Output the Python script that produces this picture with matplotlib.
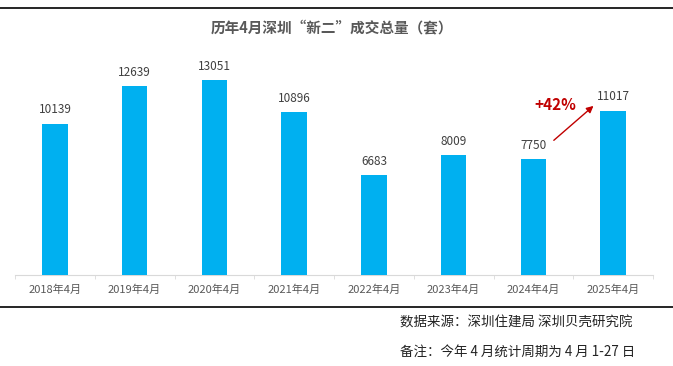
import matplotlib
matplotlib.use("Agg")
import matplotlib.pyplot as plt
from matplotlib.lines import Line2D

plt.rcParams['font.family'] = ['Noto Sans CJK SC', 'DejaVu Sans']

categories = ["2018年4月", "2019年4月", "2020年4月", "2021年4月",
              "2022年4月", "2023年4月", "2024年4月", "2025年4月"]
values = [10139, 12639, 13051, 10896, 6683, 8009, 7750, 11017]
growth_label = "+42%"

W, H = 673, 366
fig = plt.figure(figsize=(W / 100, H / 100), dpi=100)
fig.patch.set_facecolor("white")

# axes placed in pixel terms: x 15..653, y 66..275
ax = fig.add_axes([15 / W, (H - 275) / H, (653 - 15) / W, (275 - 66) / H])
x = range(len(categories))
ax.bar(x, values, width=0.32, color="#00b0f0", zorder=3)
ax.set_xlim(-0.5, len(categories) - 0.5)
ax.set_ylim(0, 14000)

for xi, v in zip(x, values):
    ax.text(xi, v + 500, str(v), ha="center", va="bottom",
            fontsize=8.5, color="#404040")

ax.set_xticks(list(x))
ax.set_xticklabels(categories, fontsize=8, color="#595959")
ax.set_xticks([i - 0.5 for i in range(len(categories) + 1)], minor=True)
ax.tick_params(axis="x", which="major", length=0, pad=7)
ax.tick_params(axis="x", which="minor", length=3, color="#d9d9d9")
ax.set_yticks([])
for s in ["top", "right", "left"]:
    ax.spines[s].set_visible(False)
ax.spines["bottom"].set_color("#d9d9d9")

# growth arrow between 2024 and 2025
ax.annotate("", xy=(6.78, 11450), xytext=(6.23, 8900),
            arrowprops=dict(arrowstyle="-|>", color="#c00000", lw=1.0,
                            mutation_scale=10), zorder=5)
ax.text(6.27, 11380, growth_label, ha="center", va="center",
        fontsize=11, fontweight="bold", color="#c00000")

fig.text(332 / W, 1 - 28 / H, "历年4月深圳“新二”成交总量（套）", ha="center",
         va="center", fontsize=10.5, fontweight="bold", color="#595959")

# separator lines
fig.add_artist(Line2D([0, 1], [1 - 8 / H, 1 - 8 / H], color="black", lw=1.2))
fig.add_artist(Line2D([0, 1], [1 - 307 / H, 1 - 307 / H], color="black", lw=1.2))

fig.text(400 / W, 1 - 323 / H, "数据来源：深圳住建局 深圳贝壳研究院",
         ha="left", va="center", fontsize=9.7, color="#222222")
fig.text(400 / W, 1 - 352 / H, "备注：今年 4 月统计周期为 4 月 1-27 日",
         ha="left", va="center", fontsize=9.7, color="#222222")

fig.savefig("out.png", dpi=100)
